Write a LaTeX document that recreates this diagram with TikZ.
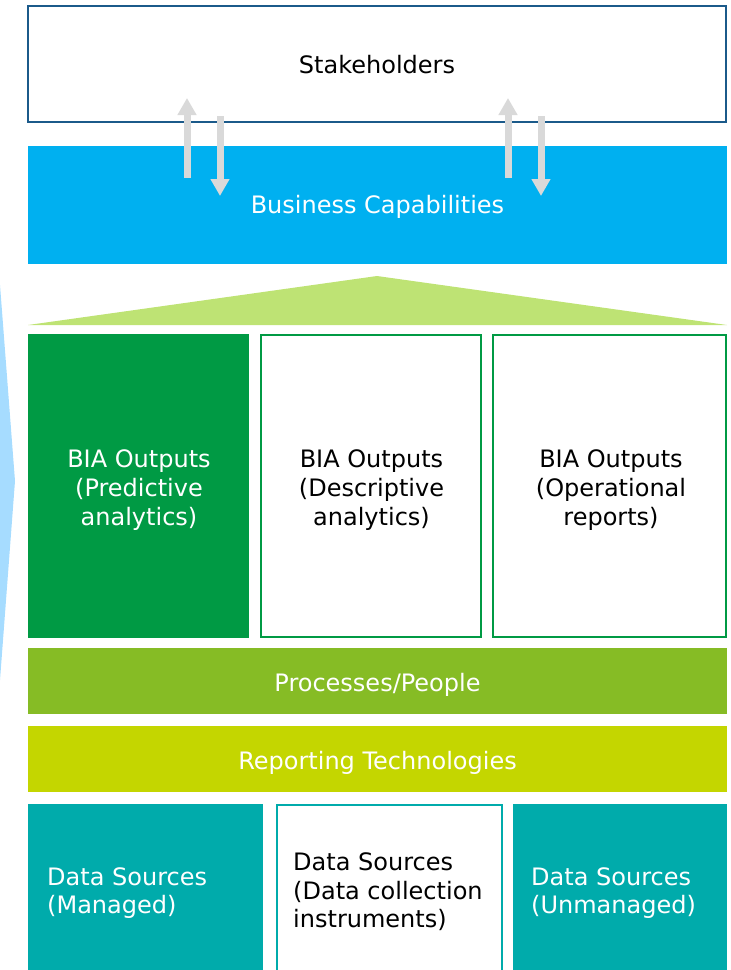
\documentclass[tikz,border=0pt]{standalone}
\usepackage{fontspec}
\setmainfont{DejaVu Sans}
\usetikzlibrary{arrows.meta}
\definecolor{skyblue}{HTML}{00B0F0}
\definecolor{darkblue}{HTML}{1B5A8A}
\definecolor{paleblue}{HTML}{A6DCFF}
\definecolor{lightgreen}{HTML}{BEE374}
\definecolor{biagreen}{HTML}{009A44}
\definecolor{procgreen}{HTML}{86BC25}
\definecolor{repgreen}{HTML}{C4D600}
\definecolor{teal}{HTML}{00ABAB}
\definecolor{arrowgray}{HTML}{D9D9D9}
% multi-line blocks whose baseline is that of the first line
\newcommand\centrelines[1]{\vtop{\halign{\hfil##\hfil\cr#1\crcr}}}
\newcommand\leftlines[1]{\vtop{\halign{##\hfil\cr#1\crcr}}}
\begin{document}
\begin{tikzpicture}[x=1pt,y=-1pt,
  every node/.style={inner sep=0pt},
  filledbox/.style={rectangle, fill=#1},
  outlinebox/.style={rectangle, draw=#1, line width=2pt, fill=white},
  lighttext/.style={anchor=base, text=white, font=\fontsize{24}{29}\selectfont},
  darktext/.style={anchor=base, text=black, font=\fontsize{24}{29}\selectfont},
  lightleft/.style={anchor=base west, text=white, font=\fontsize{24}{28.5}\selectfont},
  darkleft/.style={anchor=base west, text=black, font=\fontsize{24}{28.5}\selectfont},
  flowarrow/.style={draw=arrowgray, line width=7pt, -{Triangle[width=18pt,length=17pt]}}
]
\useasboundingbox (0,0) rectangle (731,970);

% pale blue chevron at left edge
\fill[paleblue] (-20,285) -- (0,285) -- (15,481) -- (0,680) -- (-20,680) -- cycle;

% Stakeholders
\node[outlinebox=darkblue, minimum width=698pt, minimum height=116pt] (stake) at (377,64) {};
\node[darktext] (stake-t) at (377,73.5) {Stakeholders};

% Business capabilities
\node[filledbox=skyblue, minimum width=699pt, minimum height=118pt] (bc) at (377.5,205) {};
\node[lighttext] (bc-t) at (377.5,213.3) {Business Capabilities};

% arrows between stakeholders and business capabilities
\coordinate (a1s) at (187,178); \coordinate (a1e) at (187,98);
\coordinate (a2s) at (220,116); \coordinate (a2e) at (220,196);
\coordinate (a3s) at (508,178); \coordinate (a3e) at (508,98);
\coordinate (a4s) at (541,116); \coordinate (a4e) at (541,196);
\draw[flowarrow] (a1s) -- (a1e);
\draw[flowarrow] (a2s) -- (a2e);
\draw[flowarrow] (a3s) -- (a3e);
\draw[flowarrow] (a4s) -- (a4e);

% roof triangle
\fill[lightgreen] (28,325) -- (377,276) -- (727,325) -- cycle;

% BIA outputs
\node[filledbox=biagreen, minimum width=221pt, minimum height=304pt] (bia1) at (138.5,486) {};
\node[outlinebox=biagreen, minimum width=220pt, minimum height=302pt] (bia2) at (370.5,486) {};
\node[outlinebox=biagreen, minimum width=233pt, minimum height=302pt] (bia3) at (609.5,486) {};
\node[lighttext] (bia1-t) at (139,467.3) {\centrelines{BIA Outputs\cr (Predictive\cr analytics)}};
\node[darktext] (bia2-t) at (371.5,467.3) {\centrelines{BIA Outputs\cr (Descriptive\cr analytics)}};
\node[darktext] (bia3-t) at (611,467.3) {\centrelines{BIA Outputs\cr (Operational\cr reports)}};

% bands
\node[filledbox=procgreen, minimum width=699pt, minimum height=66pt] (proc) at (377.5,681) {};
\node[lighttext] (proc-t) at (377.5,691) {Processes/People};
\node[filledbox=repgreen, minimum width=699pt, minimum height=66pt] (rep) at (377.5,759) {};
\node[lighttext] (rep-t) at (377.5,769) {Reporting Technologies};

% data sources
\node[filledbox=teal, minimum width=235pt, minimum height=176pt] (ds1) at (145.5,892) {};
\node[outlinebox=teal, minimum width=225pt, minimum height=174pt] (ds2) at (389,892) {};
\node[filledbox=teal, minimum width=214pt, minimum height=176pt] (ds3) at (620,892) {};
\node[lightleft] (ds1-t) at (47,885) {\leftlines{Data Sources\cr (Managed)}};
\node[darkleft] (ds2-t) at (293,870.7) {\leftlines{Data Sources\cr (Data collection\cr instruments)}};
\node[lightleft] (ds3-t) at (531,885) {\leftlines{Data Sources\cr (Unmanaged)}};
\end{tikzpicture}
\end{document}
